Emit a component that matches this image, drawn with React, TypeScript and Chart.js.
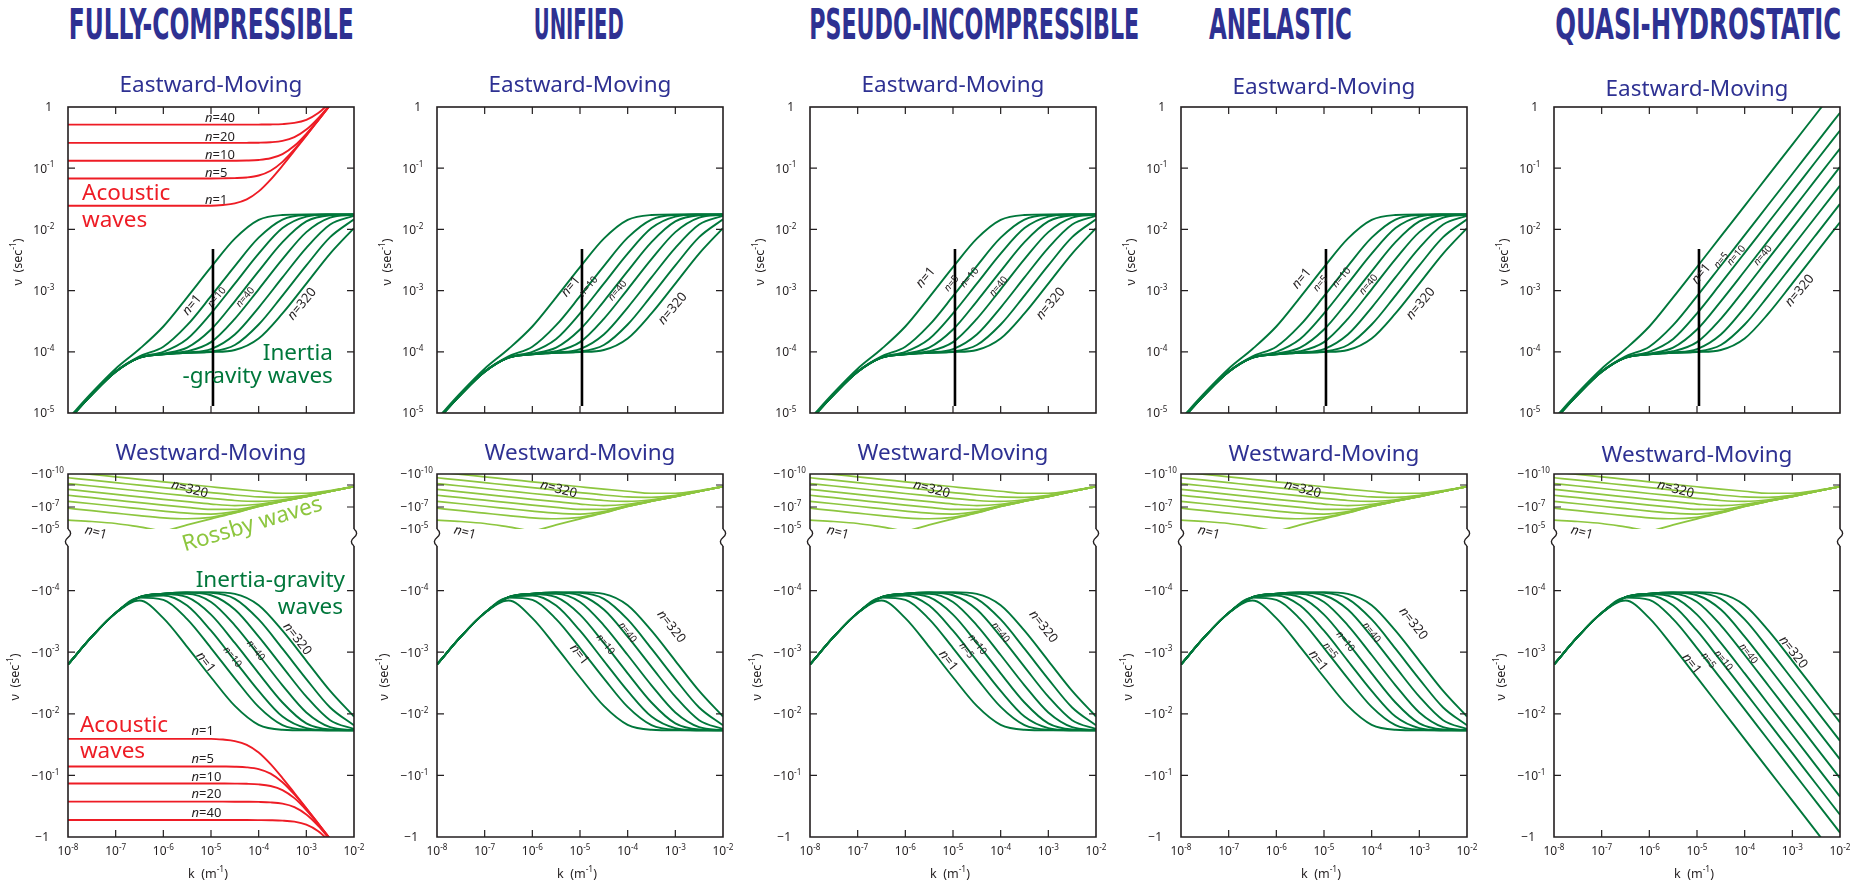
import React, { useEffect, useRef } from 'react';
import { Chart, registerables } from 'chart.js';

Chart.register(...registerables);

const FONT = '"Noto Sans", "Open Sans", "DejaVu Sans", sans-serif';
const HEAD_FONT = '"Liberation Sans Narrow", "DejaVu Sans Condensed", "Liberation Sans", sans-serif';
const BLUE = '#2E3192';
const IG_GREEN = '#00773B';
const ROSSBY_GREEN = '#8DC63F';
const AC_RED = '#EE1C25';
const INK = '#231F20';

// ---------- axes ----------
const K_TICKS = [1e-8, 1e-7, 1e-6, 1e-5, 1e-4, 1e-3, 1e-2];
const K_TICK_EXP = ['-8', '-7', '-6', '-5', '-4', '-3', '-2'];
const EAST_TICKS = [1, 1e-1, 1e-2, 1e-3, 1e-4, 1e-5];
const EAST_TICK_EXP = ['', '-1', '-2', '-3', '-4', '-5'];
const WEST_MAIN_TICKS = [1e-4, 1e-3, 1e-2, 1e-1, 1];
const WEST_MAIN_EXP = ['-4', '-3', '-2', '-1', ''];
const WEST_ROSSBY_TICKS = [1e-10, 1e-7, 1e-5];
const WEST_ROSSBY_EXP = ['-10', '-7', '-5'];
const WEST_ROSSBY_MINOR = [1e-9, 1e-7];

const COLUMN_TITLES = ['FULLY-COMPRESSIBLE', 'UNIFIED', 'PSEUDO-INCOMPRESSIBLE', 'ANELASTIC', 'QUASI-HYDROSTATIC'];
const N_VALUES = ['1', '5', '10', '20', '40', '80', '160', '320'];

// ---------- data (k in m^-1, |nu| in s^-1) ----------
const K_GRID = [1e-8, 3.16e-8, 1e-7, 3.16e-7, 1e-6, 3.16e-6, 1e-5, 3.16e-5, 1e-4, 3.16e-4, 1e-3, 3.16e-3, 1e-2];

// eastward inertia-gravity, n = 1,5,10,20,40,80,160,320 (non-hydrostatic models)
const EAST_IG = [
  [8.0e-6, 2.14e-5, 5.29e-5, 1.11e-4, 2.59e-4, 7.75e-4, 2.41e-3, 7.05e-3, 1.43e-2, 1.72e-2, 1.76e-2, 1.76e-2, 1.76e-2],
  [7.64e-6, 2.02e-5, 4.77e-5, 8.40e-5, 1.21e-4, 2.72e-4, 8.10e-4, 2.52e-3, 7.32e-3, 1.45e-2, 1.72e-2, 1.75e-2, 1.76e-2],
  [7.61e-6, 2.0e-5, 4.72e-5, 8.11e-5, 1.0e-4, 1.62e-4, 4.24e-4, 1.30e-3, 4.02e-3, 1.05e-2, 1.62e-2, 1.75e-2, 1.76e-2],
  [7.6e-6, 2.0e-5, 4.7e-5, 8.03e-5, 9.34e-5, 1.17e-4, 2.31e-4, 6.69e-4, 2.08e-3, 6.20e-3, 1.35e-2, 1.70e-2, 1.75e-2],
  [7.6e-6, 2.0e-5, 4.7e-5, 8.01e-5, 9.16e-5, 1.02e-4, 1.44e-4, 3.46e-4, 1.05e-3, 3.26e-3, 9.02e-3, 1.56e-2, 1.74e-2],
  [7.6e-6, 2.0e-5, 4.7e-5, 8.0e-5, 9.11e-5, 9.74e-5, 1.11e-4, 1.92e-4, 5.29e-4, 1.64e-3, 4.99e-3, 1.20e-2, 1.67e-2],
  [7.6e-6, 2.0e-5, 4.7e-5, 8.0e-5, 9.10e-5, 9.64e-5, 1.01e-4, 1.29e-4, 2.79e-4, 8.29e-4, 2.58e-3, 7.46e-3, 1.46e-2],
  [7.6e-6, 2.0e-5, 4.7e-5, 8.0e-5, 9.10e-5, 9.60e-5, 9.89e-5, 1.07e-4, 1.65e-4, 4.24e-4, 1.30e-3, 4.02e-3, 1.05e-2],
];

// eastward inertia-gravity, quasi-hydrostatic
const EAST_IG_QH = [
  [8.0e-6, 2.14e-5, 5.29e-5, 1.11e-4, 2.59e-4, 7.75e-4, 2.43e-3, 7.69e-3, 2.43e-2, 7.69e-2, 0.243, 0.769, 2.43],
  [7.64e-6, 2.02e-5, 4.77e-5, 8.40e-5, 1.21e-4, 2.72e-4, 8.10e-4, 2.55e-3, 8.05e-3, 2.55e-2, 8.05e-2, 0.255, 0.805],
  [7.61e-6, 2.0e-5, 4.72e-5, 8.11e-5, 1.0e-4, 1.62e-4, 4.24e-4, 1.31e-3, 4.13e-3, 1.31e-2, 4.13e-2, 0.131, 0.413],
  [7.6e-6, 2.0e-5, 4.7e-5, 8.03e-5, 9.34e-5, 1.17e-4, 2.31e-4, 6.69e-4, 2.09e-3, 6.62e-3, 2.09e-2, 6.62e-2, 0.209],
  [7.6e-6, 2.0e-5, 4.7e-5, 8.01e-5, 9.16e-5, 1.02e-4, 1.44e-4, 3.46e-4, 1.05e-3, 3.32e-3, 1.05e-2, 3.32e-2, 0.105],
  [7.6e-6, 2.0e-5, 4.7e-5, 8.0e-5, 9.11e-5, 9.74e-5, 1.11e-4, 1.92e-4, 5.29e-4, 1.64e-3, 5.20e-3, 1.64e-2, 5.20e-2],
  [7.6e-6, 2.0e-5, 4.7e-5, 8.0e-5, 9.10e-5, 9.64e-5, 1.01e-4, 1.29e-4, 2.79e-4, 8.29e-4, 2.61e-3, 8.24e-3, 2.61e-2],
  [7.6e-6, 2.0e-5, 4.7e-5, 8.0e-5, 9.10e-5, 9.60e-5, 9.89e-5, 1.07e-4, 1.65e-4, 4.24e-4, 1.31e-3, 4.13e-3, 1.31e-2],
];

// westward inertia-gravity |nu| (non-hydrostatic models)
const WEST_IG = [
  [1.58e-3, 5.6e-4, 2.31e-4, 1.45e-4, 2.80e-4, 8.20e-4, 2.55e-3, 7.45e-3, 1.51e-2, 1.82e-2, 1.86e-2, 1.86e-2, 1.86e-2],
  [1.58e-3, 5.6e-4, 2.30e-4, 1.30e-4, 1.41e-4, 2.90e-4, 8.56e-4, 2.66e-3, 7.74e-3, 1.53e-2, 1.82e-2, 1.85e-2, 1.86e-2],
  [1.58e-3, 5.6e-4, 2.30e-4, 1.29e-4, 1.20e-4, 1.75e-4, 4.48e-4, 1.38e-3, 4.25e-3, 1.11e-2, 1.71e-2, 1.85e-2, 1.86e-2],
  [1.58e-3, 5.6e-4, 2.30e-4, 1.28e-4, 1.14e-4, 1.28e-4, 2.45e-4, 7.08e-4, 2.20e-3, 6.55e-3, 1.43e-2, 1.80e-2, 1.85e-2],
  [1.58e-3, 5.6e-4, 2.30e-4, 1.28e-4, 1.13e-4, 1.13e-4, 1.53e-4, 3.66e-4, 1.11e-3, 3.45e-3, 9.53e-3, 1.65e-2, 1.84e-2],
  [1.58e-3, 5.6e-4, 2.30e-4, 1.28e-4, 1.12e-4, 1.08e-4, 1.19e-4, 2.03e-4, 5.59e-4, 1.73e-3, 5.27e-3, 1.27e-2, 1.77e-2],
  [1.58e-3, 5.6e-4, 2.30e-4, 1.28e-4, 1.12e-4, 1.07e-4, 1.09e-4, 1.36e-4, 2.94e-4, 8.76e-4, 2.73e-3, 7.89e-3, 1.54e-2],
  [1.58e-3, 5.6e-4, 2.30e-4, 1.28e-4, 1.12e-4, 1.07e-4, 1.06e-4, 1.13e-4, 1.73e-4, 4.48e-4, 1.38e-3, 4.25e-3, 1.11e-2],
];

// westward inertia-gravity |nu|, quasi-hydrostatic
const WEST_IG_QH = [
  [1.58e-3, 5.6e-4, 2.31e-4, 1.45e-4, 2.80e-4, 8.20e-4, 2.57e-3, 8.12e-3, 2.57e-2, 8.12e-2, 0.257, 0.812, 2.57],
  [1.58e-3, 5.6e-4, 2.30e-4, 1.30e-4, 1.41e-4, 2.90e-4, 8.56e-4, 2.69e-3, 8.50e-3, 2.69e-2, 8.50e-2, 0.269, 0.850],
  [1.58e-3, 5.6e-4, 2.30e-4, 1.29e-4, 1.20e-4, 1.75e-4, 4.48e-4, 1.38e-3, 4.36e-3, 1.38e-2, 4.36e-2, 0.138, 0.436],
  [1.58e-3, 5.6e-4, 2.30e-4, 1.28e-4, 1.14e-4, 1.28e-4, 2.45e-4, 7.07e-4, 2.21e-3, 6.99e-3, 2.21e-2, 6.99e-2, 0.221],
  [1.58e-3, 5.6e-4, 2.30e-4, 1.28e-4, 1.13e-4, 1.13e-4, 1.53e-4, 3.66e-4, 1.11e-3, 3.50e-3, 1.11e-2, 3.50e-2, 0.111],
  [1.58e-3, 5.6e-4, 2.30e-4, 1.28e-4, 1.12e-4, 1.08e-4, 1.19e-4, 2.03e-4, 5.59e-4, 1.74e-3, 5.49e-3, 1.74e-2, 5.49e-2],
  [1.58e-3, 5.6e-4, 2.30e-4, 1.28e-4, 1.12e-4, 1.07e-4, 1.09e-4, 1.36e-4, 2.94e-4, 8.76e-4, 2.75e-3, 8.70e-3, 2.75e-2],
  [1.58e-3, 5.6e-4, 2.30e-4, 1.28e-4, 1.12e-4, 1.07e-4, 1.06e-4, 1.13e-4, 1.73e-4, 4.48e-4, 1.38e-3, 4.36e-3, 1.38e-2],
];

// westward Rossby |nu|
const ROSSBY = [
  [1.55e-6, 2.09e-6, 3.16e-6, 6.46e-6, 1.38e-5, 4.2e-6, 1.20e-6, 3.47e-7, 8.91e-8, 3.02e-8, 1.12e-8, 3.80e-9, 1.41e-9],
  [1.29e-7, 2.16e-7, 3.63e-7, 6.10e-7, 9.55e-7, 1.17e-6, 8.71e-7, 3.24e-7, 8.71e-8, 3.02e-8, 1.12e-8, 3.80e-9, 1.41e-9],
  [3.02e-8, 5.07e-8, 8.51e-8, 1.41e-7, 2.34e-7, 3.63e-7, 4.37e-7, 2.66e-7, 8.51e-8, 3.02e-8, 1.12e-8, 3.80e-9, 1.41e-9],
  [8.51e-9, 1.43e-8, 2.40e-8, 4.03e-8, 6.76e-8, 1.10e-7, 1.66e-7, 1.66e-7, 7.59e-8, 2.92e-8, 1.12e-8, 3.80e-9, 1.41e-9],
  [2.51e-9, 4.22e-9, 7.08e-9, 1.19e-8, 2.0e-8, 3.31e-8, 5.37e-8, 7.41e-8, 5.62e-8, 2.69e-8, 1.10e-8, 3.80e-9, 1.41e-9],
  [7.41e-10, 1.24e-9, 2.09e-9, 3.51e-9, 5.89e-9, 9.77e-9, 1.62e-8, 2.57e-8, 3.09e-8, 2.19e-8, 1.02e-8, 3.72e-9, 1.41e-9],
  [2.19e-10, 3.67e-10, 6.17e-10, 1.04e-9, 1.74e-9, 2.88e-9, 4.90e-9, 8.13e-9, 1.20e-8, 1.32e-8, 8.71e-9, 3.59e-9, 1.40e-9],
  [6.46e-11, 1.08e-10, 1.82e-10, 3.05e-10, 5.13e-10, 8.61e-10, 1.45e-9, 2.40e-9, 3.72e-9, 5.62e-9, 5.62e-9, 3.16e-9, 1.35e-9],
];

// acoustic waves (fully compressible only), n = 1,5,10,20,40
const K_AC = [1e-8, 1e-7, 1e-6, 1e-5, 1.78e-5, 3.16e-5, 5.62e-5, 1e-4, 1.78e-4, 3.16e-4, 5.62e-4, 1e-3, 1.78e-3, 3.16e-3];
const AC_N = ['1', '5', '10', '20', '40'];
const EAST_AC = [
  [0.0243, 0.0243, 0.0243, 0.0243, 0.025, 0.0266, 0.0309, 0.0418, 0.0652, 0.110, 0.193, 0.341, 0.606, 1.075],
  [0.068, 0.068, 0.068, 0.068, 0.0683, 0.0689, 0.0706, 0.076, 0.091, 0.127, 0.203, 0.347, 0.609, 1.077],
  [0.132, 0.132, 0.132, 0.132, 0.1321, 0.1324, 0.1334, 0.1363, 0.1452, 0.170, 0.232, 0.365, 0.619, 1.083],
  [0.259, 0.259, 0.259, 0.259, 0.259, 0.2592, 0.2597, 0.2612, 0.266, 0.280, 0.322, 0.427, 0.658, 1.106],
  [0.515, 0.515, 0.515, 0.515, 0.515, 0.515, 0.515, 0.5161, 0.5185, 0.526, 0.549, 0.617, 0.795, 1.192],
];
const WEST_AC = [
  [0.0255, 0.0255, 0.0255, 0.0255, 0.0262, 0.0277, 0.0319, 0.0425, 0.0657, 0.1105, 0.193, 0.341, 0.606, 1.075],
  [0.0715, 0.0715, 0.0715, 0.0715, 0.0718, 0.0723, 0.074, 0.0792, 0.0937, 0.129, 0.204, 0.347, 0.609, 1.077],
  [0.1355, 0.1355, 0.1355, 0.1355, 0.1356, 0.1359, 0.1368, 0.1397, 0.1484, 0.173, 0.234, 0.366, 0.620, 1.084],
  [0.267, 0.267, 0.267, 0.267, 0.267, 0.2672, 0.2677, 0.2692, 0.2738, 0.2878, 0.328, 0.432, 0.661, 1.108],
  [0.531, 0.531, 0.531, 0.531, 0.531, 0.531, 0.531, 0.5321, 0.5344, 0.5418, 0.564, 0.631, 0.805, 1.199],
];

// vertical reference segment at k ~ 1e-5 (top panels)
const REF_K = 1.1e-5;
const REF_NU = [4.8e-3, 1.3e-5];

// ---------- layout ----------
const PLOT_LEFT = [68, 437, 810, 1181, 1554];
const PLOT_W = 286;
const AXIS_W = 68;
const CANVAS_W = 370;
const EAST_TOP = 60, EAST_PAD_T = 47, EAST_H = 306, EAST_PAD_B = 6;
const WEST_TOP = 430, WEST_PAD_T = 44, WEST_H = 363, WEST_PAD_B = 47;
const ROSSBY_PX = 55, MAIN_PX = 308;
const HEAD_CX = [211, 579, 974, 1280, 1698];
const HEAD_W = [285, 90, 330, 143, 286];
const EAST_SUB_Y = [84, 84, 84, 86, 88];
const WEST_SUB_Y = [452, 452, 452, 453, 454];

// ---------- annotations (positions in data space) ----------
type Part = { t: string; it?: boolean; sup?: boolean };
type NLab = [string, number, number, number];

const EAST_N_LABELS: NLab[][] = [
  [['1', 3.86e-6, 5.97e-4, 13], ['10', 1.29e-5, 7.94e-4, 10], ['40', 5.09e-5, 7.94e-4, 10], ['320', 7.84e-4, 6.19e-4, 13]],
  [['1', 6.17e-6, 1.19e-3, 13], ['10', 1.47e-5, 1.19e-3, 10], ['40', 5.97e-5, 1.02e-3, 10], ['320', 8.51e-4, 5.2e-4, 13]],
  [['1', 2.58e-6, 1.67e-3, 13], ['5', 9.08e-6, 1.33e-3, 10], ['10', 2.16e-5, 1.67e-3, 10], ['40', 8.79e-5, 1.19e-3, 10], ['320', 1.08e-3, 6.27e-4, 13]],
  [['1', 3.29e-6, 1.61e-3, 13], ['5', 8.24e-6, 1.33e-3, 10], ['10', 2.27e-5, 1.67e-3, 10], ['40', 8.37e-5, 1.28e-3, 10], ['320', 1.03e-3, 6.27e-4, 13]],
  [['1', 1.19e-5, 1.92e-3, 13], ['5', 3.14e-5, 3.16e-3, 10], ['10', 6.48e-5, 3.82e-3, 10], ['40', 2.34e-4, 3.82e-3, 10], ['320', 1.38e-3, 1.02e-3, 13]],
];
const WEST_N_LABELS: NLab[][] = [
  [['1', 7.96e-6, 1.43e-3, 13], ['10', 2.89e-5, 1.18e-3, 10], ['40', 8.91e-5, 9.21e-4, 10], ['320', 6.68e-4, 5.94e-4, 13]],
  [['1', 1.0e-5, 1.07e-3, 13], ['10', 3.51e-5, 7.36e-4, 10], ['40', 1.02e-4, 4.7e-4, 10], ['320', 8.51e-4, 3.76e-4, 13]],
  [['1', 8.24e-6, 1.34e-3, 13], ['5', 1.97e-5, 9.21e-4, 10], ['10', 3.34e-5, 7.36e-4, 10], ['40', 1.02e-4, 4.7e-4, 10], ['320', 8.11e-4, 3.76e-4, 13]],
  [['1', 7.85e-6, 1.34e-3, 13], ['5', 1.4e-5, 9.21e-4, 10], ['10', 2.89e-5, 6.57e-4, 10], ['40', 1.02e-4, 4.7e-4, 10], ['320', 7.73e-4, 3.36e-4, 13]],
  [['1', 7.96e-6, 1.51e-3, 13], ['5', 1.79e-5, 1.34e-3, 10], ['10', 3.68e-5, 1.34e-3, 10], ['40', 1.23e-4, 1.04e-3, 10], ['320', 1.08e-3, 9.82e-4, 13]],
];
const ROSSBY_LABELS: NLab[] = [['320', 3.6e-6, 2.0e-9, 13], ['1', 3.9e-8, 1.76e-5, 13]];
const EAST_AC_LABEL_K = 7.5e-6;
const EAST_AC_LABEL_NU = [0.0308, 0.0867, 0.166, 0.336, 0.674];
const WEST_AC_LABEL_K = 3.9e-6;
const WEST_AC_LABEL_NU = [0.0183, 0.0536, 0.105, 0.199, 0.4];

// ---------- text helpers ----------
function partFont(p: Part, size: number) {
  const s = p.sup ? size * 0.68 : size;
  return `${p.it ? 'italic ' : ''}${s}px ${FONT}`;
}
function richWidth(ctx: CanvasRenderingContext2D, parts: Part[], size: number) {
  let w = 0;
  for (const p of parts) { ctx.font = partFont(p, size); w += ctx.measureText(p.t).width; }
  return w;
}
function drawRich(ctx: CanvasRenderingContext2D, parts: Part[], x: number, y: number, size: number, align: string) {
  const w = richWidth(ctx, parts, size);
  let cx = align === 'center' ? x - w / 2 : align === 'right' ? x - w : x;
  ctx.textAlign = 'left';
  ctx.textBaseline = 'alphabetic';
  const base = y + size * 0.36;
  for (const p of parts) {
    ctx.font = partFont(p, size);
    ctx.fillText(p.t, cx, p.sup ? base - size * 0.42 : base);
    cx += ctx.measureText(p.t).width;
  }
}
function drawRotRich(ctx: CanvasRenderingContext2D, parts: Part[], x: number, y: number, size: number, rotDeg: number, align = 'center') {
  ctx.save();
  ctx.translate(x, y);
  ctx.rotate((rotDeg * Math.PI) / 180);
  drawRich(ctx, parts, 0, 0, size, align);
  ctx.restore();
}
function tickLabel(ctx: CanvasRenderingContext2D, base: string, exp: string, baseRight: number, y: number, size = 12) {
  ctx.font = `${size}px ${FONT}`;
  const bw = ctx.measureText(base).width;
  const parts: Part[] = exp ? [{ t: base }, { t: exp, sup: true }] : [{ t: base }];
  drawRich(ctx, parts, baseRight - bw, y, size, 'left');
}
const nParts = (n: string): Part[] => [{ t: 'n', it: true }, { t: '=' + n }];
const Y_TITLE: Part[] = [{ t: 'ν  (sec' }, { t: '-1', sup: true }, { t: ')' }];
const X_TITLE: Part[] = [{ t: 'k  (m' }, { t: '-1', sup: true }, { t: ')' }];

function series(xs: number[], ys: number[]) {
  return xs.map((x, i) => ({ x, y: ys[i] }));
}

// ---------- decorations ----------
function drawEastDecor(chart: any, ci: number) {
  const { ctx, chartArea: a } = chart;
  const xs = chart.scales.x, ys = chart.scales.y;
  ctx.save();
  ctx.fillStyle = BLUE;
  drawRich(ctx, [{ t: 'Eastward-Moving' }], (a.left + a.right) / 2, EAST_SUB_Y[ci] - EAST_TOP, 22.5, 'center');

  ctx.strokeStyle = INK;
  ctx.lineWidth = 1.6;
  ctx.strokeRect(a.left, a.top, a.right - a.left, a.bottom - a.top);
  ctx.lineWidth = 1.2;
  ctx.beginPath();
  K_TICKS.slice(1, -1).forEach((k) => {
    const x = xs.getPixelForValue(k);
    ctx.moveTo(x, a.bottom); ctx.lineTo(x, a.bottom - 7);
    ctx.moveTo(x, a.top); ctx.lineTo(x, a.top + 7);
  });
  EAST_TICKS.slice(1, -1).forEach((v) => {
    const y = ys.getPixelForValue(v);
    ctx.moveTo(a.left, y); ctx.lineTo(a.left + 7, y);
    ctx.moveTo(a.right, y); ctx.lineTo(a.right - 7, y);
  });
  ctx.stroke();

  ctx.fillStyle = INK;
  EAST_TICKS.forEach((v, i) => {
    const y = ys.getPixelForValue(v);
    if (EAST_TICK_EXP[i]) tickLabel(ctx, '10', EAST_TICK_EXP[i], a.left - 21, y);
    else tickLabel(ctx, '1', '', a.left - 16, y);
  });
  drawRotRich(ctx, Y_TITLE, a.left - 51, (a.top + a.bottom) / 2 + 2, 12.5, -90);

  EAST_N_LABELS[ci].forEach(([n, k, v, s]) => {
    drawRotRich(ctx, nParts(n), xs.getPixelForValue(k), ys.getPixelForValue(v), s, -50);
  });

  if (ci === 0) {
    EAST_AC_LABEL_NU.forEach((v, i) => {
      drawRich(ctx, nParts(AC_N[i]), xs.getPixelForValue(EAST_AC_LABEL_K), ys.getPixelForValue(v), 13, 'left');
    });
    ctx.fillStyle = AC_RED;
    drawRich(ctx, [{ t: 'Acoustic' }], xs.getPixelForValue(1.97e-8), ys.getPixelForValue(0.041), 22.5, 'left');
    drawRich(ctx, [{ t: 'waves' }], xs.getPixelForValue(1.97e-8), ys.getPixelForValue(0.015), 22.5, 'left');
    ctx.fillStyle = IG_GREEN;
    drawRich(ctx, [{ t: 'Inertia' }], xs.getPixelForValue(3.6e-3), ys.getPixelForValue(1.0e-4), 22.5, 'right');
    drawRich(ctx, [{ t: '-gravity waves' }], xs.getPixelForValue(3.6e-3), ys.getPixelForValue(4.24e-5), 22.5, 'right');
  }
  ctx.restore();
}

function drawWestDecor(chart: any, ci: number) {
  const { ctx, chartArea: a } = chart;
  const xs = chart.scales.x, yR = chart.scales.yR, yM = chart.scales.yM;
  ctx.save();
  ctx.fillStyle = BLUE;
  drawRich(ctx, [{ t: 'Westward-Moving' }], (a.left + a.right) / 2, WEST_SUB_Y[ci] - WEST_TOP, 22.5, 'center');

  const brk = yR.bottom;
  const gap = 17;
  ctx.strokeStyle = INK;
  ctx.lineWidth = 1.6;
  ctx.beginPath();
  ctx.moveTo(a.left, brk); ctx.lineTo(a.left, a.top); ctx.lineTo(a.right, a.top); ctx.lineTo(a.right, brk);
  ctx.moveTo(a.left, brk + gap); ctx.lineTo(a.left, a.bottom); ctx.lineTo(a.right, a.bottom); ctx.lineTo(a.right, brk + gap);
  ctx.stroke();
  ctx.lineWidth = 1.4;
  [a.left, a.right].forEach((x) => {
    ctx.beginPath();
    ctx.moveTo(x, brk);
    ctx.bezierCurveTo(x + 4, brk + 3, x + 3, brk + 6, x, brk + 8.5);
    ctx.bezierCurveTo(x - 3, brk + 11, x - 4, brk + 14, x, brk + gap);
    ctx.stroke();
  });

  ctx.lineWidth = 1.2;
  ctx.beginPath();
  K_TICKS.slice(1, -1).forEach((k) => {
    const x = xs.getPixelForValue(k);
    ctx.moveTo(x, a.bottom); ctx.lineTo(x, a.bottom - 7);
    ctx.moveTo(x, a.top); ctx.lineTo(x, a.top + 7);
  });
  WEST_MAIN_TICKS.slice(0, -1).forEach((v) => {
    const y = yM.getPixelForValue(v);
    ctx.moveTo(a.left, y); ctx.lineTo(a.left + 7, y);
    ctx.moveTo(a.right, y); ctx.lineTo(a.right - 7, y);
  });
  WEST_ROSSBY_MINOR.forEach((v) => {
    const y = yR.getPixelForValue(v);
    ctx.moveTo(a.left, y); ctx.lineTo(a.left + 7, y);
    ctx.moveTo(a.right, y); ctx.lineTo(a.right - 7, y);
  });
  ctx.stroke();

  ctx.fillStyle = INK;
  WEST_ROSSBY_TICKS.forEach((v, i) => {
    tickLabel(ctx, '\u221210', WEST_ROSSBY_EXP[i], a.left - 16, yR.getPixelForValue(v));
  });
  WEST_MAIN_TICKS.forEach((v, i) => {
    const y = yM.getPixelForValue(v);
    if (WEST_MAIN_EXP[i]) tickLabel(ctx, '\u221210', WEST_MAIN_EXP[i], a.left - 16, y);
    else tickLabel(ctx, '\u22121', '', a.left - 19, y);
  });
  K_TICKS.forEach((k, i) => {
    const x = xs.getPixelForValue(k);
    drawRich(ctx, [{ t: '10' }, { t: K_TICK_EXP[i], sup: true }], x, a.bottom + 14, 12, 'center');
  });
  drawRich(ctx, X_TITLE, (a.left + a.right) / 2 - 3, a.bottom + 36, 12.5, 'center');
  drawRotRich(ctx, Y_TITLE, a.left - 54, (yM.top + yM.bottom) / 2 - 6, 12.5, -90);

  WEST_N_LABELS[ci].forEach(([n, k, v, s]) => {
    drawRotRich(ctx, nParts(n), xs.getPixelForValue(k), yM.getPixelForValue(v), s, 52);
  });
  ROSSBY_LABELS.forEach(([n, k, v, s]) => {
    drawRotRich(ctx, nParts(n), xs.getPixelForValue(k), yR.getPixelForValue(v), s, 15);
  });

  if (ci === 0) {
    WEST_AC_LABEL_NU.forEach((v, i) => {
      drawRich(ctx, nParts(AC_N[i]), xs.getPixelForValue(WEST_AC_LABEL_K), yM.getPixelForValue(v), 13, 'left');
    });
    ctx.fillStyle = ROSSBY_GREEN;
    drawRotRich(ctx, [{ t: 'Rossby waves' }], xs.getPixelForValue(7.2e-5), yR.getPixelForValue(2.85e-6), 22.5, -16.6);
    ctx.fillStyle = IG_GREEN;
    drawRich(ctx, [{ t: 'Inertia-gravity' }], xs.getPixelForValue(6.5e-3), yM.getPixelForValue(6.38e-5), 22.5, 'right');
    drawRich(ctx, [{ t: 'waves' }], xs.getPixelForValue(5.9e-3), yM.getPixelForValue(1.79e-4), 22.5, 'right');
    ctx.fillStyle = AC_RED;
    drawRich(ctx, [{ t: 'Acoustic' }], xs.getPixelForValue(1.78e-8), yM.getPixelForValue(0.0144), 22.5, 'left');
    drawRich(ctx, [{ t: 'waves' }], xs.getPixelForValue(1.78e-8), yM.getPixelForValue(0.0381), 22.5, 'left');
  }
  ctx.restore();
}

// ---------- chart builders ----------
function lineDs(data: any[], color: string, width: number, yAxisID: string, label: string) {
  return {
    label,
    data,
    borderColor: color,
    borderWidth: width,
    pointRadius: 0,
    fill: false,
    cubicInterpolationMode: 'monotone',
    yAxisID,
  };
}

function makeEast(canvas: HTMLCanvasElement, ci: number) {
  const ig = ci === 4 ? EAST_IG_QH : EAST_IG;
  const datasets: any[] = [];
  datasets.push({
    label: 'ref',
    data: [{ x: REF_K, y: REF_NU[0] }, { x: REF_K, y: REF_NU[1] }],
    borderColor: '#000', borderWidth: 2.6, pointRadius: 0, fill: false, yAxisID: 'y',
  });
  if (ci === 0) EAST_AC.forEach((row, i) => datasets.push(lineDs(series(K_AC, row), AC_RED, 1.9, 'y', 'ac n=' + AC_N[i])));
  ig.forEach((row, i) => datasets.push(lineDs(series(K_GRID, row), IG_GREEN, 1.9, 'y', 'ig n=' + N_VALUES[i])));
  return new Chart(canvas, {
    type: 'line',
    data: { datasets },
    options: {
      responsive: false,
      animation: false,
      devicePixelRatio: 1,
      events: [],
      layout: { padding: { left: AXIS_W, top: EAST_PAD_T, right: CANVAS_W - AXIS_W - PLOT_W, bottom: EAST_PAD_B } },
      plugins: { legend: { display: false }, tooltip: { enabled: false }, title: { display: false } },
      elements: { line: { capBezierPoints: false }, point: { radius: 0 } },
      scales: {
        x: { type: 'logarithmic', display: false, min: 1e-8, max: 1e-2 },
        y: { type: 'logarithmic', display: false, min: 1e-5, max: 1 },
      },
    },
    plugins: [{ id: 'decorE', afterDatasetsDraw: (c: any) => drawEastDecor(c, ci) }],
  } as any);
}

function makeWest(canvas: HTMLCanvasElement, ci: number) {
  const ig = ci === 4 ? WEST_IG_QH : WEST_IG;
  const datasets: any[] = [];
  if (ci === 0) WEST_AC.forEach((row, i) => datasets.push(lineDs(series(K_AC, row), AC_RED, 1.9, 'yM', 'ac n=' + AC_N[i])));
  ig.forEach((row, i) => datasets.push(lineDs(series(K_GRID, row), IG_GREEN, 1.9, 'yM', 'ig n=' + N_VALUES[i])));
  ROSSBY.forEach((row, i) => datasets.push(lineDs(series(K_GRID, row), ROSSBY_GREEN, 1.7, 'yR', 'rossby n=' + N_VALUES[i])));
  return new Chart(canvas, {
    type: 'line',
    data: { datasets },
    options: {
      responsive: false,
      animation: false,
      devicePixelRatio: 1,
      events: [],
      layout: { padding: { left: AXIS_W, top: WEST_PAD_T, right: CANVAS_W - AXIS_W - PLOT_W, bottom: WEST_PAD_B } },
      plugins: { legend: { display: false }, tooltip: { enabled: false }, title: { display: false } },
      elements: { line: { capBezierPoints: false }, point: { radius: 0 } },
      scales: {
        x: { type: 'logarithmic', display: false, min: 1e-8, max: 1e-2 },
        yR: { type: 'logarithmic', display: false, position: 'left', stack: 'west', stackWeight: ROSSBY_PX, weight: 2, reverse: true, min: 1e-10, max: 1e-5 },
        yM: { type: 'logarithmic', display: false, position: 'left', stack: 'west', stackWeight: MAIN_PX, weight: 1, reverse: true, min: 1e-5, max: 1 },
      },
    },
    plugins: [{ id: 'decorW', afterDatasetsDraw: (c: any) => drawWestDecor(c, ci) }],
  } as any);
}

// ---------- components ----------
function Panel({ ci, side }: { ci: number; side: string }) {
  const ref = useRef<HTMLCanvasElement>(null);
  const east = side === 'east';
  const h = east ? EAST_PAD_T + EAST_H + EAST_PAD_B : WEST_PAD_T + WEST_H + WEST_PAD_B;
  useEffect(() => {
    if (!ref.current) return;
    const chart = east ? makeEast(ref.current, ci) : makeWest(ref.current, ci);
    return () => chart.destroy();
  }, [ci, side]);
  return (
    <canvas
      ref={ref}
      width={CANVAS_W}
      height={h}
      style={{ position: 'absolute', left: PLOT_LEFT[ci] - AXIS_W, top: east ? EAST_TOP : WEST_TOP, width: CANVAS_W, height: h }}
    />
  );
}

function Header({ ci }: { ci: number }) {
  const ref = useRef<HTMLSpanElement>(null);
  useEffect(() => {
    const el = ref.current;
    if (!el) return;
    el.style.transform = 'none';
    const w = el.getBoundingClientRect().width;
    if (w > 0) el.style.transform = `scaleX(${HEAD_W[ci] / w})`;
  }, [ci]);
  return (
    <div style={{ position: 'absolute', left: HEAD_CX[ci] - 300, width: 600, top: 4, textAlign: 'center', lineHeight: '42px', height: 42 }}>
      <span
        ref={ref}
        style={{ display: 'inline-block', fontFamily: HEAD_FONT, fontWeight: 700, fontSize: 42, color: BLUE, whiteSpace: 'nowrap', transformOrigin: '50% 50%' }}
      >
        {COLUMN_TITLES[ci]}
      </span>
    </div>
  );
}

export default function App() {
  const cols = [0, 1, 2, 3, 4];
  return (
    <div style={{ position: 'absolute', left: 0, top: 0, width: 1871, height: 884, background: '#fff', overflow: 'hidden' }}>
      {cols.map((ci) => (
        <Header key={'h' + ci} ci={ci} />
      ))}
      {cols.map((ci) => (
        <Panel key={'e' + ci} ci={ci} side="east" />
      ))}
      {cols.map((ci) => (
        <Panel key={'w' + ci} ci={ci} side="west" />
      ))}
    </div>
  );
}
